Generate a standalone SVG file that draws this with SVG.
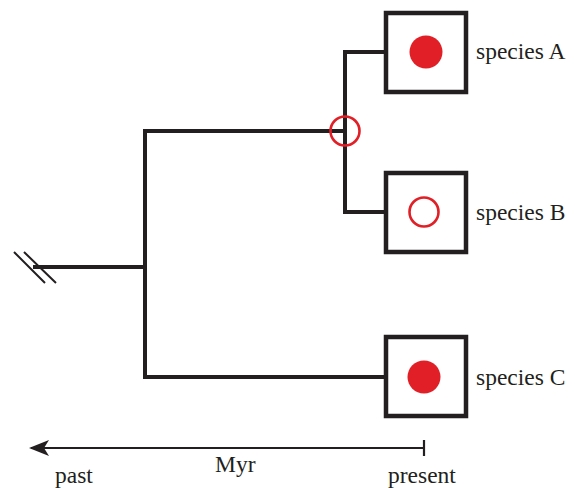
<svg xmlns="http://www.w3.org/2000/svg" width="575" height="488" viewBox="0 0 575 488">
<style>
.ln{fill:none;stroke:#231f20;stroke-width:4}
.box{fill:#fff;stroke:#231f20;stroke-width:4.5}
.dot{fill:#e11f26}
.ring{fill:none;stroke:#e11f26;stroke-width:2.6}
text{font-family:'Liberation Serif','Times New Roman','DejaVu Serif',serif;font-size:23.5px;fill:#231f20}
</style>
<defs>
<marker id="ah" markerWidth="20" markerHeight="16" refX="18" refY="8" orient="auto" markerUnits="userSpaceOnUse">
<path d="M20,8 L0,0 L5,8 L0,16 Z" fill="#231f20"/>
</marker>
</defs>
<g id="connectors">
<path class="ln" d="M33,267 H145 M145,129 V379 M143,131 H345 M143,377 H386 M345,50 V214 M343,52 H386 M343,212 H386"/>
<path d="M14,252 L45,283 M24,252 L56,283" fill="none" stroke="#231f20" stroke-width="2"/>
<circle class="ring" cx="345" cy="131" r="14.5"/>
</g>
<g id="speciesA">
<rect class="box" x="386" y="13" width="80" height="79"/>
<circle class="dot" cx="426" cy="52" r="16.5"/>
<text x="476" y="59">species A</text>
</g>
<g id="speciesB">
<rect class="box" x="386" y="173" width="80" height="79"/>
<circle class="ring" cx="424" cy="212" r="14.5"/>
<text x="476" y="220">species B</text>
</g>
<g id="speciesC">
<rect class="box" x="386" y="337" width="80" height="79"/>
<circle class="dot" cx="424" cy="377" r="16.5"/>
<text x="476" y="385">species C</text>
</g>
<g id="axis">
<line x1="424" y1="448" x2="31" y2="448" stroke="#231f20" stroke-width="2" marker-end="url(#ah)"/>
<line x1="424" y1="440" x2="424" y2="456" stroke="#231f20" stroke-width="2.2"/>
<text x="55" y="483">past</text>
<text x="215" y="472">Myr</text>
<text x="388" y="483">present</text>
</g>
</svg>
